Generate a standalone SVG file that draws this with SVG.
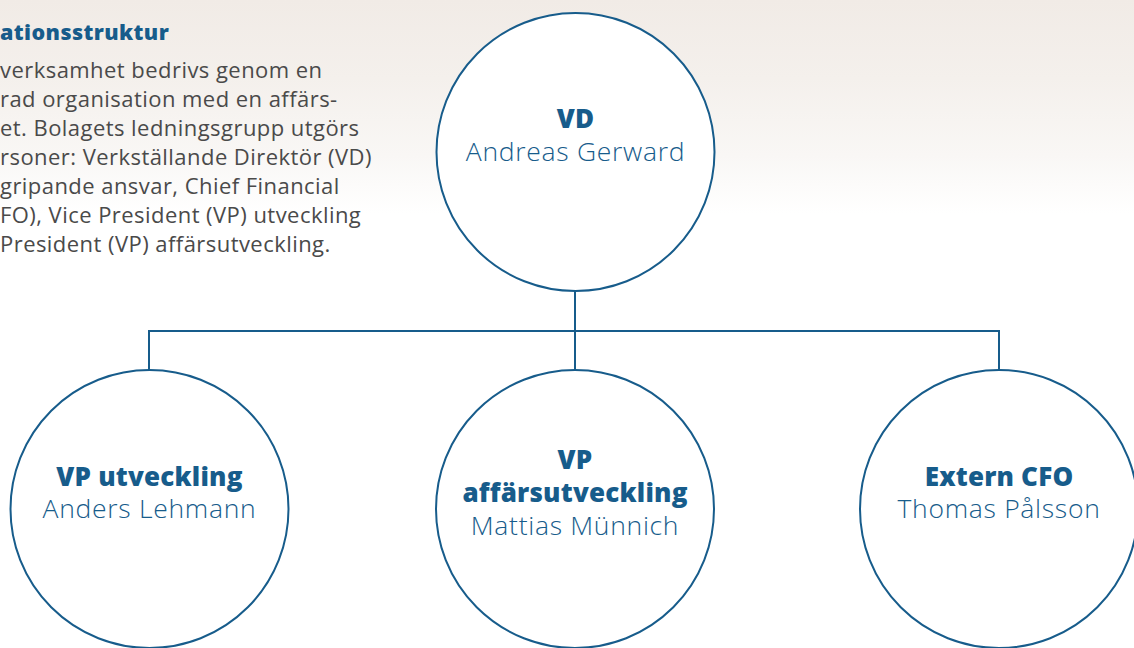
<svg xmlns="http://www.w3.org/2000/svg" width="1134" height="648" viewBox="0 0 1134 648">
<defs>
<linearGradient id="bg" x1="0" y1="0" x2="0" y2="1">
<stop offset="0" stop-color="#f1ebe6"/>
<stop offset="0.12" stop-color="#f4f0ec"/>
<stop offset="0.24" stop-color="#f9f7f5"/>
<stop offset="0.33" stop-color="#ffffff"/>
<stop offset="1" stop-color="#ffffff"/>
</linearGradient>
<style>
.node{fill:#ffffff;stroke:#175c8b;stroke-width:2}
.conn{fill:none;stroke:#175c8b;stroke-width:2}
.role{font-family:"Open Sans",Lato,sans-serif;font-weight:800;font-size:26px;letter-spacing:0.2px;fill:#175c8b;text-anchor:middle}
.name{font-family:"Open Sans",Lato,sans-serif;font-weight:300;font-size:26.5px;letter-spacing:0.7px;fill:#175c8b;text-anchor:middle}
.head{font-family:"Open Sans",Lato,sans-serif;font-weight:800;font-size:21.5px;letter-spacing:0.4px;fill:#175c8b}
.body{font-family:"Open Sans",Lato,sans-serif;font-weight:400;font-size:22px;letter-spacing:0.45px;fill:#4a4a4a}
</style>
</defs>
<rect x="0" y="0" width="1134" height="648" fill="url(#bg)"/>
<g id="intro">
<text class="head" x="0" y="40">ationsstruktur</text>
<text class="body" x="0" y="78">verksamhet bedrivs genom en</text>
<text class="body" x="0" y="107">rad organisation med en affärs-</text>
<text class="body" x="0" y="136">et. Bolagets ledningsgrupp utgörs</text>
<text class="body" x="0" y="165">rsoner: Verkställande Direktör (VD)</text>
<text class="body" x="0" y="194">gripande ansvar, Chief Financial</text>
<text class="body" x="0" y="223">FO), Vice President (VP) utveckling</text>
<text class="body" x="0" y="252">President (VP) affärsutveckling.</text>
</g>
<g id="connectors">
<path class="conn" d="M575 291 V370 M149 370 V331 H999 V370"/>
</g>
<g id="vd">
<circle class="node" cx="575.5" cy="152" r="139"/>
<text class="role" x="575.5" y="128">VD</text>
<text class="name" x="575.5" y="161">Andreas Gerward</text>
</g>
<g id="vp-utveckling">
<circle class="node" cx="149.5" cy="509" r="139"/>
<text class="role" x="149.5" y="486">VP utveckling</text>
<text class="name" x="149.5" y="518">Anders Lehmann</text>
</g>
<g id="vp-affarsutveckling">
<circle class="node" cx="575" cy="509" r="139"/>
<text class="role" x="575" y="469">VP</text>
<text class="role" x="575" y="502">affärsutveckling</text>
<text class="name" x="575" y="535">Mattias Münnich</text>
</g>
<g id="extern-cfo">
<circle class="node" cx="999" cy="509" r="139"/>
<text class="role" x="999" y="486">Extern CFO</text>
<text class="name" x="999" y="518">Thomas Pålsson</text>
</g>
</svg>
